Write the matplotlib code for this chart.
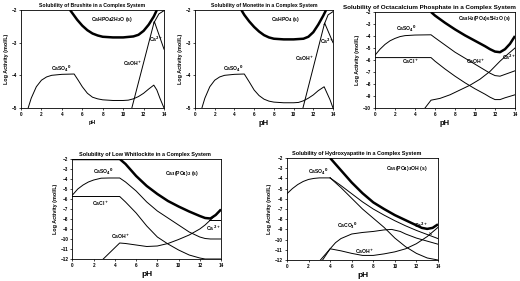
import matplotlib
matplotlib.use("Agg")
import matplotlib.pyplot as plt

plt.rcParams['font.family'] = ['Liberation Sans', 'DejaVu Sans']
plt.rcParams['font.weight'] = 'bold'

# ---- Brushite ----
br_solid_ph = [4.8, 5.5, 6.0, 6.5, 7.0, 7.5, 8.0, 9.0, 10.0, 11.0, 11.5, 12.0, 12.5, 13.0, 13.3]
br_solid = [-2.0, -2.3, -2.48, -2.62, -2.72, -2.78, -2.82, -2.84, -2.84, -2.81, -2.76, -2.64, -2.45, -2.2, -2.0]
br_so4_ph = [0.7, 1.0, 1.5, 2.0, 2.5, 3.0, 4.0, 5.2, 5.6, 6.0, 6.5, 7.0, 7.5, 8.0, 9.0, 10.0, 10.5,
             11.0, 11.5, 12.0, 12.5, 13.0, 13.3, 13.6, 14.0]
br_so4 = [-5.0, -4.7, -4.35, -4.15, -4.05, -4.0, -3.97, -3.96, -4.15, -4.35, -4.55, -4.67, -4.72, -4.75,
          -4.77, -4.77, -4.76, -4.72, -4.65, -4.55, -4.42, -4.3, -4.45, -4.7, -5.0]
br_oh_ph = [10.85, 13.05, 14.0]
br_oh = [-5.0, -2.35, -3.2]
br_ca_ph = [13.0, 13.5, 14.0]
br_ca = [-2.4, -2.12, -2.02]

# ---- Monetite ----
mo_solid_ph = [4.7, 5.0, 5.5, 6.0, 6.5, 7.0, 7.5, 8.0, 9.0, 10.0, 11.0, 11.5, 12.0, 12.5, 13.0, 13.3]
mo_solid = [-2.0, -2.15, -2.35, -2.52, -2.66, -2.77, -2.84, -2.88, -2.9, -2.9, -2.88, -2.82, -2.68,
            -2.45, -2.18, -2.0]
mo_so4_ph = [0.7, 1.0, 1.5, 2.0, 2.5, 3.0, 4.0, 5.0, 5.5, 6.0, 6.5, 7.0, 7.5, 8.0, 9.0, 10.0, 10.5,
             11.0, 11.5, 12.0, 12.5, 13.1, 13.4, 13.7, 14.0]
mo_so4 = [-5.0, -4.7, -4.35, -4.15, -4.05, -4.0, -3.97, -3.96, -4.2, -4.45, -4.62, -4.73, -4.79, -4.82,
          -4.84, -4.84, -4.83, -4.78, -4.7, -4.6, -4.47, -4.35, -4.55, -4.75, -5.0]
mo_oh_ph = [10.95, 13.15, 14.0]
mo_oh = [-5.0, -2.4, -3.0]
mo_ca_ph = [13.1, 13.5, 14.0]
mo_ca = [-2.45, -2.15, -2.05]

# ---- Octacalcium phosphate ----
oc_solid_ph = [5.6, 6.0, 6.5, 7.0, 8.0, 9.0, 10.0, 11.0, 11.5, 12.0, 12.5, 13.0, 13.5, 14.0]
oc_solid = [-2.0, -2.3, -2.6, -2.9, -3.45, -3.95, -4.4, -4.85, -5.1, -5.3, -5.35, -5.1, -4.65, -4.0]
oc_so4_ph = [0.0, 0.5, 1.0, 1.5, 2.0, 2.5, 3.0, 4.0, 5.6, 6.0, 7.0, 8.0, 9.0, 10.0, 11.0, 11.5, 12.0,
             12.5, 13.0, 13.5, 14.0]
oc_so4 = [-5.6, -5.1, -4.7, -4.4, -4.2, -4.05, -3.97, -3.92, -3.9, -4.15, -4.75, -5.35, -5.85, -6.35,
          -6.85, -7.1, -7.3, -7.35, -7.2, -7.05, -6.9]
oc_cl_ph = [0.0, 5.6, 6.0, 7.0, 8.0, 9.0, 10.0, 11.0, 11.5, 12.0, 12.5, 13.0, 14.0]
oc_cl = [-5.8, -5.8, -6.1, -6.75, -7.35, -7.9, -8.4, -8.85, -9.1, -9.3, -9.3, -9.15, -8.9]
oc_oh_ph = [5.0, 5.6, 6.5, 7.5, 8.5, 9.5, 10.5, 11.5, 12.5, 13.3, 14.0]
oc_oh = [-10.0, -9.35, -9.2, -8.9, -8.5, -8.1, -7.6, -6.95, -6.1, -5.5, -5.0]

# ---- Low whitlockite ----
wh_solid_ph = [0.0, 4.45, 5.0, 6.0, 7.0, 8.0, 9.0, 10.0, 11.0, 12.0, 12.5, 13.0, 13.5, 14.0]
wh_solid = [-2.0, -2.0, -2.5, -3.7, -4.7, -5.5, -6.2, -6.75, -7.25, -7.7, -7.9, -7.95, -7.6, -7.05]
wh_so4_ph = [0.0, 0.5, 1.0, 1.5, 2.0, 2.7, 3.5, 4.45, 5.0, 6.0, 7.0, 8.0, 9.0, 10.0, 11.0, 12.0, 12.5,
             13.0, 14.0]
wh_so4 = [-5.6, -5.0, -4.6, -4.3, -4.1, -3.92, -3.9, -3.9, -4.3, -5.2, -6.3, -7.2, -7.9, -8.6, -9.3,
          -9.8, -9.95, -10.0, -10.0]
wh_cl_ph = [0.0, 4.45, 5.0, 6.0, 7.0, 8.0, 9.0, 10.0, 11.0, 12.0, 12.5, 14.0]
wh_cl = [-5.75, -5.75, -6.3, -7.4, -8.7, -9.8, -10.5, -11.1, -11.6, -11.9, -12.0, -12.0]
wh_oh_ph = [2.9, 4.45, 5.0, 6.0, 7.0, 8.0, 9.0, 10.0, 11.0, 12.0, 12.5, 13.0, 13.5, 14.0]
wh_oh = [-12.0, -10.4, -10.45, -10.6, -10.75, -10.7, -10.45, -10.05, -9.6, -9.0, -8.6, -8.1, -7.6, -7.05]
wh_ca_ph = [12.9, 14.0]
wh_ca = [-8.15, -8.15]

# ---- Hydroxyapatite ----
ha_solid_ph = [4.0, 5.0, 6.0, 7.0, 8.0, 9.0, 10.0, 11.0, 12.0, 12.5, 13.0, 13.5, 14.0]
ha_solid = [-2.0, -3.2, -4.4, -5.45, -6.35, -7.0, -7.6, -8.1, -8.6, -8.85, -8.95, -8.85, -8.5]
ha_so4_ph = [0.0, 0.5, 1.0, 1.5, 2.0, 2.5, 3.0, 4.0]
ha_so4 = [-5.5, -5.0, -4.6, -4.3, -4.1, -4.0, -3.95, -3.95]
ha_par_ph = [4.0, 5.0, 6.0, 7.0, 8.0, 9.0, 10.0, 11.0, 12.0, 13.0, 14.0]
ha_par = [-3.95, -4.7, -5.5, -6.3, -7.0, -7.6, -8.15, -8.65, -9.1, -9.5, -9.9]
ha_steep_ph = [4.0, 5.0, 6.0, 7.0, 8.0, 9.0, 10.0, 11.0, 12.0, 13.0, 14.0]
ha_steep = [-3.95, -4.9, -5.95, -7.0, -7.9, -8.8, -9.85, -10.7, -11.35, -11.8, -12.0]
ha_co3_ph = [3.3, 4.0, 4.5, 5.0, 6.0, 7.0, 8.0, 9.0, 9.7, 10.5, 11.0, 12.0, 13.0, 14.0]
ha_co3 = [-12.0, -10.9, -10.3, -9.9, -9.45, -9.3, -9.2, -9.05, -9.0, -9.2, -9.45, -9.85, -10.15, -10.45]
ha_oh_ph = [3.1, 4.0, 5.0, 6.0, 7.0, 8.0, 9.0, 10.0, 11.0, 12.0, 13.0, 14.0]
ha_oh = [-12.0, -10.9, -11.1, -11.35, -11.55, -11.55, -11.4, -11.2, -10.9, -10.4, -9.7, -8.8]

fig = plt.figure(figsize=(5.2, 2.81), dpi=100)


def setup(ax, title, ymin, tsize, phsize, tx=0.5):
    ax.set_xlim(0, 14)
    ax.set_ylim(ymin, -2)
    ax.set_xticks(range(0, 15, 2))
    ax.set_yticks(range(ymin, -1))
    ax.tick_params(labelsize=3.3, length=1.5, width=0.5, pad=1.5)
    for s in ax.spines.values():
        s.set_linewidth(0.6)
    ax.set_title(title, fontsize=tsize, fontweight='bold', pad=2, x=tx)
    ax.set_xlabel('pH', fontsize=phsize, fontweight='bold', labelpad=2)
    ax.set_ylabel('Log Activity (mol/L)', fontsize=3.9, fontweight='bold', labelpad=2)


thick = dict(color='black', lw=1.8, solid_capstyle='butt')
thin = dict(color='black', lw=0.7)
lab = dict(fontsize=3.6, fontweight='bold', ha='center', va='center')

# Brushite
ax = fig.add_axes([0.0404, 0.6157, 0.275, 0.3488])
setup(ax, 'Solubility of Brushite in a Complex System', -5, 3.7, 3.8)
ax.plot(br_solid_ph, br_solid, **thick)
ax.plot(br_so4_ph, br_so4, **thin)
ax.plot(br_oh_ph, br_oh, **thin)
ax.plot(br_ca_ph, br_ca, **thin)
ax.text(8.9, -2.28, r'CaHPO$_4$2H$_2$O (s)', **lab)
ax.text(3.9, -3.8, r'CaSO$_4$$^0$', **lab)
ax.text(10.9, -3.65, r'CaOH$^+$', **lab)
ax.text(13.2, -2.9, r'Ca$^{2+}$', **lab)

# Monetite
ax = fig.add_axes([0.375, 0.6157, 0.2654, 0.3488])
setup(ax, 'Solubility of Monetite in a Complex System', -5, 3.7, 5.5)
ax.plot(mo_solid_ph, mo_solid, **thick)
ax.plot(mo_so4_ph, mo_so4, **thin)
ax.plot(mo_oh_ph, mo_oh, **thin)
ax.plot(mo_ca_ph, mo_ca, **thin)
ax.text(9.2, -2.28, r'CaHPO$_4$ (s)', **lab)
ax.text(3.9, -3.8, r'CaSO$_4$$^0$', **lab)
ax.text(11.1, -3.5, r'CaOH$^+$', **lab)
ax.text(13.35, -2.95, r'Ca$^{2+}$', **lab)

# Octacalcium phosphate
ax = fig.add_axes([0.7212, 0.6157, 0.2692, 0.3416])
setup(ax, 'Solubility of Octacalcium Phosphate in a Complex System', -10, 4.5, 5.5, tx=0.39)
ax.plot(oc_solid_ph, oc_solid, **thick)
ax.plot(oc_so4_ph, oc_so4, **thin)
ax.plot(oc_cl_ph, oc_cl, **thin)
ax.plot(oc_oh_ph, oc_oh, **thin)
ax.text(11.0, -2.55, r'Ca$_8$H$_2$(PO$_4$)$_6$5H$_2$O (s)', **lab)
ax.text(3.1, -3.4, r'CaSO$_4$$^0$', **lab)
ax.text(3.5, -6.15, r'CaCl$^+$', **lab)
ax.text(10.1, -6.15, r'CaOH$^+$', **lab)
ax.text(13.4, -5.8, r'Ca$^{2+}$', **lab)

# Low whitlockite
ax = fig.add_axes([0.1394, 0.0783, 0.2856, 0.3559])
setup(ax, 'Solubility of Low Whitlockite in a Complex System', -12, 4.0, 6, tx=0.49)
ax.plot(wh_solid_ph, wh_solid, **thick)
ax.plot(wh_so4_ph, wh_so4, **thin)
ax.plot(wh_cl_ph, wh_cl, **thin)
ax.plot(wh_oh_ph, wh_oh, **thin)
ax.plot(wh_ca_ph, wh_ca, **thin)
ax.text(10.3, -3.5, r'Ca$_3$(PO$_4$)$_2$ (s)', **lab)
ax.text(2.9, -3.3, r'CaSO$_4$$^0$', **lab)
ax.text(2.6, -6.5, r'CaCl$^+$', **lab)
ax.text(4.5, -9.8, r'CaOH$^+$', **lab)
ax.text(13.3, -8.9, r'Ca $^{2+}$', **lab)

# Hydroxyapatite
ax = fig.add_axes([0.5519, 0.0747, 0.2904, 0.363])
setup(ax, 'Solubility of Hydroxyapatite in a Complex System', -12, 4.0, 6, tx=0.46)
ax.plot(ha_solid_ph, ha_solid, **thick)
ax.plot(ha_so4_ph, ha_so4, **thin)
ax.plot(ha_par_ph, ha_par, **thin)
ax.plot(ha_steep_ph, ha_steep, **thin)
ax.plot(ha_co3_ph, ha_co3, **thin)
ax.plot(ha_oh_ph, ha_oh, **thin)
ax.text(11.1, -3.0, r'Ca$_5$(PO$_4$)$_3$OH (s)', **lab)
ax.text(2.9, -3.4, r'CaSO$_4$$^0$', **lab)
ax.text(5.6, -8.7, r'CaCO$_3$$^0$', **lab)
ax.text(7.2, -11.15, r'CaOH$^+$', **lab)
ax.annotate(r'Ca$^{2+}$', xy=(13.4, -9.5), xytext=(12.4, -8.6), fontsize=3.6, fontweight='bold',
            ha='center', va='center', arrowprops=dict(arrowstyle='-', lw=0.5, color='black'))

fig.savefig('out.png', dpi=100)
